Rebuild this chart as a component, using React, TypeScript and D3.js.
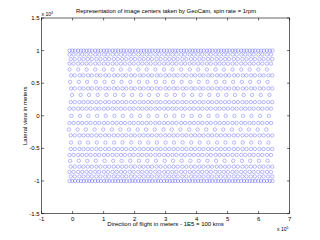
import React from "react";
import * as d3 from "d3";

// x positions of the sweep columns (units of 1e5 m)
const columns = [0, 0.28, 0.55, 0.83, 1.11, 1.39, 1.66, 1.94, 2.22, 2.49, 2.77, 3.05, 3.32, 3.6, 3.88, 4.15, 4.43, 4.71, 4.98, 5.26, 5.54, 5.81, 6.09, 6.37];
// lateral positions of the rows (units of 1e4 m)
const rowY = [1.0, 0.94, 0.87, 0.8, 0.71, 0.62, 0.52, 0.42, 0.32, 0.21, 0.11, 0, -0.11, -0.21, -0.3, -0.41, -0.51, -0.6, -0.69, -0.78, -0.86, -0.93, -1.0];
// per-row offsets of the circles from the column position (units of 1e5 m)
const rowOffsets: number[][] = [
  [-0.1, -0.01, 0.08],
  [-0.1, 0.03],
  [-0.06, 0.07],
  [-0.1, 0.03],
  [-0.1],
  [-0.05, 0.07],
  [-0.08],
  [-0.05, 0.07],
  [-0.02],
  [-0.06, 0.07],
  [-0.1, 0.03],
  [-0.04],
  [-0.1, 0.03],
  [-0.12],
  [-0.06, 0.07],
  [-0.05],
  [-0.06, 0.07],
  [-0.1, 0.03],
  [-0.08],
  [-0.06, 0.07],
  [-0.1, 0.03],
  [-0.06, 0.07],
  [-0.1, -0.01, 0.08],
];
const xTicks = [-1, 0, 1, 2, 3, 4, 5, 6, 7];
const yTicks = [-1.5, -1, -0.5, 0, 0.5, 1, 1.5];
const titleText = "Representation of image centers taken by GeoCam, spin rate = 1rpm";
const xLabelText = "Direction of flight in meters - 1E5 = 100 kms";
const yLabelText = "Lateral view in meters";

export default function App() {
  const W = 320, H = 240;
  const left = 41.6, right = 289.6, top = 18, bottom = 213.6;
  const x = d3.scaleLinear().domain([-1, 7]).range([left, right]);
  const y = d3.scaleLinear().domain([-1.5, 1.5]).range([bottom, top]);
  const tl = 2.5;
  const font = "'Liberation Sans', Arial, sans-serif";
  const fs = 6;

  const pts: { cx: number; cy: number }[] = [];
  rowY.forEach((ry, i) => {
    columns.forEach((c) => {
      rowOffsets[i].forEach((o) => {
        pts.push({ cx: x(c + o), cy: y(ry) });
      });
    });
  });

  return (
    <svg width={W} height={H} style={{ position: "absolute", left: 0, top: 0, background: "#fff" }} fontFamily={font}>
      <rect x={0} y={0} width={W} height={H} fill="#fff" />
      <g>
        {pts.map((p, i) => (
          <circle key={i} cx={p.cx} cy={p.cy} r={1.7} fill="none" stroke="#0000ff" strokeOpacity={0.45} strokeWidth={0.6} />
        ))}
      </g>
      <rect x={left} y={top} width={right - left} height={bottom - top} fill="none" stroke="#000" strokeWidth={0.6} />
      {xTicks.map((t) => (
        <g key={"x" + t}>
          <line x1={x(t)} x2={x(t)} y1={bottom} y2={bottom - tl} stroke="#000" strokeWidth={0.6} />
          <line x1={x(t)} x2={x(t)} y1={top} y2={top + tl} stroke="#000" strokeWidth={0.6} />
          <text x={x(t)} y={bottom + 7} fontSize={fs} textAnchor="middle">{String(t)}</text>
        </g>
      ))}
      {yTicks.map((t) => (
        <g key={"y" + t}>
          <line x1={left} x2={left + tl} y1={y(t)} y2={y(t)} stroke="#000" strokeWidth={0.6} />
          <line x1={right} x2={right - tl} y1={y(t)} y2={y(t)} stroke="#000" strokeWidth={0.6} />
          <text x={left - 2} y={y(t) + 2} fontSize={fs} textAnchor="end">{String(t)}</text>
        </g>
      ))}
      <text x={left} y={16} fontSize={fs - 1}>
        x 10<tspan fontSize={fs - 2.5} dy={-2}>4</tspan>
      </text>
      <text x={277} y={231} fontSize={fs - 1}>
        x 10<tspan fontSize={fs - 2.5} dy={-2}>5</tspan>
      </text>
      <text x={166} y={13} fontSize={5.9} textAnchor="middle">{titleText}</text>
      <text x={(left + right) / 2} y={226} fontSize={fs} textAnchor="middle">{xLabelText}</text>
      <text transform={`translate(27,${(top + bottom) / 2}) rotate(-90)`} fontSize={fs} textAnchor="middle">{yLabelText}</text>
    </svg>
  );
}
